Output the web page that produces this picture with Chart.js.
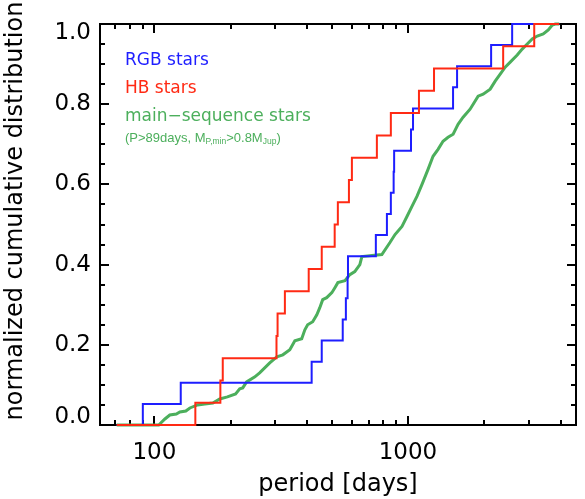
<!DOCTYPE html>
<html>
<head>
<meta charset="utf-8">
<script src="https://cdn.jsdelivr.net/npm/chart.js@4.4.0/dist/chart.umd.min.js"></script>
<style>
html, body { margin: 0; padding: 0; background: #ffffff; }
canvas { display: block; }
</style>
</head>
<body>
<canvas id="c" width="585" height="499"></canvas>
<script>
// ---------- data ----------
const seriesNames = ['RGB stars', 'HB stars', 'main\u2212sequence stars'];
const seriesColors = ['#1e1eff', '#ff2a14', '#4caf5c'];

// periods [days] of the individual planets (each one adds a step of 1/N)
const rgbPeriods = [90, 127, 417, 457, 553, 569, 578, 580, 747, 826, 856, 878, 882, 1028, 1047, 1506, 1562, 2128, 2576];
const hbPeriods = [145, 182, 186, 303, 306, 327, 406, 457, 514, 529, 585, 601, 754, 856, 1105, 1267, 2374, 3148];

// main-sequence cumulative curve, read point by point
const msPeriods = [104, 110, 115, 122, 126, 133, 138, 148, 158, 170, 181, 194, 209, 217, 223, 231, 249, 260, 285, 304,
  321, 342, 358, 381, 392, 402, 421, 437, 449, 461, 478, 501, 515, 529, 564, 590, 617, 646, 658, 721,
  789, 849, 889, 947, 991, 1037, 1085, 1136, 1200, 1256, 1314, 1375, 1439, 1507, 1576, 1650, 1758, 1891, 1979, 2110,
  2208, 2311, 2418, 2531, 2697, 2822, 2954, 3091, 3235, 3417, 3576, 3709, 3811];
const msCdf = [0, 0.015, 0.025, 0.0275, 0.0325, 0.035, 0.0425, 0.05, 0.0525, 0.055, 0.065, 0.07, 0.0775, 0.09, 0.0925, 0.1075, 0.12, 0.13, 0.155, 0.17,
  0.175, 0.1875, 0.21, 0.215, 0.2375, 0.25, 0.2575, 0.275, 0.2925, 0.3125, 0.3175, 0.33, 0.3425, 0.355, 0.36, 0.375, 0.3825, 0.40, 0.42, 0.4225,
  0.425, 0.455, 0.475, 0.495, 0.52, 0.545, 0.57, 0.60, 0.6375, 0.67, 0.6875, 0.7075, 0.7175, 0.725, 0.75, 0.7675, 0.7875, 0.82, 0.825, 0.8375,
  0.8575, 0.875, 0.8925, 0.905, 0.9225, 0.9375, 0.95, 0.9625, 0.97, 0.975, 0.985, 0.9975, 1.0];

const curveStart = 71;    // days, where the curves begin at 0
const curveEnd = 3950;    // days, where the curves end at 1

// axes
const xMin = 61, xMax = 4600;
const yMin = 0, yMax = 1;
const xMajorTicks = [100, 1000];
const xMinorTicks = [70, 80, 90, 200, 300, 400, 500, 600, 700, 800, 900, 2000, 3000, 4000];
const yMajorTicks = [0.0, 0.2, 0.4, 0.6, 0.8, 1.0];
const yMinorTicks = [0.05, 0.1, 0.15, 0.25, 0.3, 0.35, 0.45, 0.5, 0.55, 0.65, 0.7, 0.75, 0.85, 0.9, 0.95];
const xTitle = 'period [days]';
const yTitle = 'normalized cumulative distribution';

// ---------- build step curves ----------
function ecdf(periods) {
  const n = periods.length;
  const pts = [{ x: curveStart, y: 0 }];
  periods.forEach((p, i) => pts.push({ x: p, y: (i + 1) / n }));
  pts.push({ x: curveEnd, y: 1 });
  return pts;
}
const msPoints = [{ x: curveStart, y: 0 }].concat(msPeriods.map((p, i) => ({ x: p, y: msCdf[i] })));
msPoints.push({ x: curveEnd, y: 1 });

const FONT = "'DejaVu Sans', sans-serif";

const framePlugin = {
  id: 'frame',
  beforeDatasetsDraw(chart) {
    const ctx = chart.ctx;
    const a = chart.chartArea;
    const xs = chart.scales.x, ys = chart.scales.y;
    ctx.save();
    ctx.strokeStyle = '#000';
    ctx.lineWidth = 2;
    ctx.strokeRect(a.left, a.top, a.right - a.left, a.bottom - a.top);
    ctx.beginPath();
    const major = 9, minor = 5;
    const xt = xMajorTicks.map(v => [v, major]).concat(xMinorTicks.map(v => [v, minor]));
    xt.forEach(([v, len]) => {
      const px = Math.round(xs.getPixelForValue(v));
      ctx.moveTo(px, a.bottom); ctx.lineTo(px, a.bottom - len);
      ctx.moveTo(px, a.top); ctx.lineTo(px, a.top + len);
    });
    const yt = yMajorTicks.map(v => [v, major]).concat(yMinorTicks.map(v => [v, minor]));
    yt.forEach(([v, len]) => {
      const py = Math.round(ys.getPixelForValue(v));
      ctx.moveTo(a.left, py); ctx.lineTo(a.left + len, py);
      ctx.moveTo(a.right, py); ctx.lineTo(a.right - len, py);
    });
    ctx.stroke();
    ctx.restore();
  },
  afterDraw(chart) {
    const ctx = chart.ctx;
    const a = chart.chartArea;
    const ys = chart.scales.y;
    ctx.save();
    // y tick labels
    ctx.fillStyle = '#000';
    ctx.font = '23px ' + FONT;
    ctx.textAlign = 'right';
    ctx.textBaseline = 'middle';
    yMajorTicks.forEach(v => {
      let py = ys.getPixelForValue(v);
      if (v === yMin) py -= 8;
      if (v === yMax) py += 9;
      ctx.fillText(v.toFixed(1), a.left - 9, py);
    });
    // y title
    ctx.save();
    ctx.translate(16, 211);
    ctx.rotate(-Math.PI / 2);
    ctx.textAlign = 'center';
    ctx.textBaseline = 'middle';
    ctx.font = '24px ' + FONT;
    ctx.fillText(yTitle, 0, 0);
    ctx.restore();
    // legend text
    ctx.textAlign = 'left';
    ctx.textBaseline = 'middle';
    ctx.font = '17px ' + FONT;
    const lx = 125;
    const ly = [61, 89, 117];
    seriesNames.forEach((t, i) => {
      ctx.fillStyle = seriesColors[i];
      ctx.fillText(t, lx, ly[i]);
    });
    // selection note with subscripts
    ctx.fillStyle = seriesColors[2];
    const parts = [
      ['(P>89days, M', false], ['P,min', true], ['>0.8M', false], ['Jup', true], [')', false]
    ];
    let x = lx;
    const yb = 142;
    parts.forEach(([t, sub]) => {
      ctx.font = (sub ? '8.5px ' : '13px ') + "'Liberation Sans', sans-serif";
      ctx.textBaseline = 'alphabetic';
      ctx.fillText(t, x, sub ? yb + 2 : yb);
      x += ctx.measureText(t).width;
    });
    ctx.restore();
  }
};

new Chart(document.getElementById('c'), {
  type: 'line',
  data: {
    datasets: [
      { label: seriesNames[1], data: ecdf(hbPeriods), borderColor: seriesColors[1], borderWidth: 2, stepped: 'before', order: 0 },
      { label: seriesNames[0], data: ecdf(rgbPeriods), borderColor: seriesColors[0], borderWidth: 2, stepped: 'before', order: 1 },
      { label: seriesNames[2], data: msPoints, borderColor: seriesColors[2], borderWidth: 3, order: 2 }
    ]
  },
  options: {
    responsive: false,
    devicePixelRatio: 1,
    animation: false,
    events: [],
    layout: { padding: { top: 24, right: 9, left: 0, bottom: 0 } },
    elements: { point: { radius: 0 }, line: { tension: 0, fill: false, borderCapStyle: 'butt', borderJoinStyle: 'miter' } },
    datasets: { line: { clip: false } },
    plugins: { legend: { display: false }, tooltip: { enabled: false } },
    scales: {
      x: {
        type: 'logarithmic',
        min: xMin, max: xMax,
        grid: { display: false, drawTicks: false },
        border: { display: false },
        afterBuildTicks(scale) { scale.ticks = xMajorTicks.map(v => ({ value: v })); },
        afterFit(scale) { scale.height = 74; },
        ticks: {
          autoSkip: false, maxRotation: 0, padding: 14, color: '#000',
          font: { family: FONT, size: 23 },
          callback: (v) => String(v)
        },
        title: { display: true, text: xTitle, color: '#000', font: { family: FONT, size: 24 }, padding: { top: 0, bottom: 0 } }
      },
      y: {
        min: yMin, max: yMax,
        grid: { display: false, drawTicks: false },
        border: { display: false },
        ticks: { display: false },
        afterFit(scale) { scale.width = 100; }
      }
    }
  },
  plugins: [framePlugin]
});
</script>
</body>
</html>
